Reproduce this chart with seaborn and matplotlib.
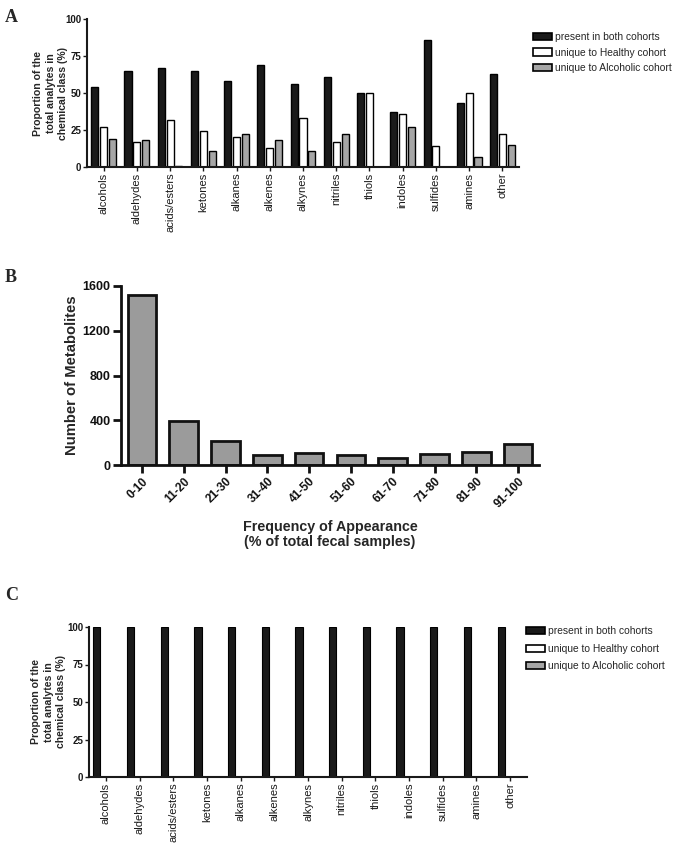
import matplotlib
matplotlib.use("Agg")
import matplotlib.pyplot as plt
import seaborn as sns
import pandas as pd
from matplotlib.patches import Patch

sns.set_theme(style="ticks")
plt.rcParams['font.family'] = ['Liberation Sans', 'DejaVu Sans']

# ---- data ----
classes = ["alcohols", "aldehydes", "acids/esters", "ketones", "alkanes", "alkenes",
           "alkynes", "nitriles", "thiols", "indoles", "sulfides", "amines", "other"]
groups = ["present in both cohorts", "unique to Healthy cohort", "unique to Alcoholic cohort"]

a_both = [54, 65, 67, 65, 58, 69, 56, 61, 50, 37, 86, 43, 63]
a_healthy = [27, 17, 32, 24, 20, 13, 33, 17, 50, 36, 14, 50, 22]
a_alcoholic = [19, 18, 1, 11, 22, 18, 11, 22, 0, 27, 0, 7, 15]

freq_bins = ["0-10", "11-20", "21-30", "31-40", "41-50", "51-60",
             "61-70", "71-80", "81-90", "91-100"]
freq_counts = [1520, 390, 215, 93, 111, 93, 63, 101, 119, 184]

c_both = [100] * 13
c_healthy = [0] * 13
c_alcoholic = [0] * 13

a_yticks = [0, 25, 50, 75, 100]
b_yticks = [0, 400, 800, 1200, 1600]

colors = ["#1a1a1a", "#ffffff", "#a6a6a6"]
palette = dict(zip(groups, colors))


def long_df(v1, v2, v3):
    return pd.DataFrame({
        "class": classes * 3,
        "group": [groups[0]] * 13 + [groups[1]] * 13 + [groups[2]] * 13,
        "value": list(v1) + list(v2) + list(v3),
    })


fig = plt.figure(figsize=(6.8, 8.49), dpi=100)

W, H = 680.0, 849.0


def ax_rect(l, r, t, b):
    return [l / W, 1 - b / H, (r - l) / W, (b - t) / H]


ylab = "Proportion of the\ntotal analytes in\nchemical class (%)"


def class_panel(ax, df, lw_edge, label_x):
    sns.barplot(data=df, x="class", y="value", hue="group", palette=palette,
                hue_order=groups, order=classes, edgecolor="black",
                linewidth=lw_edge, gap=0.2, width=0.8, ax=ax, legend=False)
    ax.set_ylim(0, 100)
    ax.set_xlim(-0.5, 12.5)
    ax.set_yticks(a_yticks)
    ax.set_yticklabels([str(t) for t in a_yticks], fontsize=7, fontweight="bold")
    ax.set_xticks(range(len(classes)))
    ax.set_xticklabels(classes, rotation=90, fontsize=8)
    ax.set_xlabel("")
    ax.set_ylabel(ylab, fontsize=7.6, fontweight="bold", linespacing=1.3)
    ax.yaxis.set_label_coords(label_x, 0.5)
    for s in ["top", "right"]:
        ax.spines[s].set_visible(False)
    for s in ["left", "bottom"]:
        ax.spines[s].set_linewidth(1.5)
        ax.spines[s].set_color("#1a1a1a")
    ax.tick_params(axis="both", length=3, width=1.0, pad=1.2, colors="#1a1a1a")


# ---- Panel A ----
axA = fig.add_axes(ax_rect(87, 519, 19, 167))
class_panel(axA, long_df(a_both, a_healthy, a_alcoholic), 1.0, (68 - 87) / 432)

handles = [Patch(facecolor=c, edgecolor="black", linewidth=1.2) for c in colors]
fig.legend(handles, groups, loc="upper left", bbox_to_anchor=(533 / W, 1 - 32 / H),
           frameon=False, fontsize=7.4, handlelength=1.8, handleheight=0.7,
           handletextpad=0.3, labelspacing=0.55, borderpad=0, borderaxespad=0)

# ---- Panel B ----
axB = fig.add_axes(ax_rect(121, 539, 286, 465))
dfB = pd.DataFrame({"bin": freq_bins, "count": freq_counts})
sns.barplot(data=dfB, x="bin", y="count", color="#9b9b9b", saturation=1,
            edgecolor="#111111", linewidth=2, width=0.68, ax=axB)
axB.set_ylim(0, 1600)
axB.set_xlim(-0.5, 9.5)
axB.set_yticks(b_yticks)
axB.set_yticklabels([str(t) for t in b_yticks], fontsize=9, fontweight="bold")
axB.set_xticks(range(len(freq_bins)))
axB.set_xticklabels(freq_bins, rotation=45, ha="right", rotation_mode="anchor",
                    fontsize=8.5, fontweight="bold")
axB.set_xlabel("Frequency of Appearance\n(% of total fecal samples)", fontsize=10.3,
               fontweight="bold", labelpad=7, linespacing=1.1)
axB.set_ylabel("Number of Metabolites", fontsize=10.7, fontweight="bold")
axB.yaxis.set_label_coords((79 - 121) / 418, 0.5)
for s in ["top", "right"]:
    axB.spines[s].set_visible(False)
for s in ["left", "bottom"]:
    axB.spines[s].set_linewidth(2)
    axB.spines[s].set_color("#111111")
axB.tick_params(axis="both", length=6, width=2, pad=1.5, colors="#111111")

# ---- Panel C ----
axC = fig.add_axes(ax_rect(89, 527, 627, 777))
class_panel(axC, long_df(c_both, c_healthy, c_alcoholic), 0.8, (66 - 89) / 438)
fig.legend(handles, groups, loc="upper left", bbox_to_anchor=(526 / W, 1 - 626 / H),
           frameon=False, fontsize=7.4, handlelength=1.8, handleheight=0.7,
           handletextpad=0.3, labelspacing=0.75, borderpad=0, borderaxespad=0)

# ---- Panel letters ----
for letter, (x, y) in zip("ABC", [(5, 17), (5, 277), (5, 596)]):
    fig.text(x / W, 1 - y / H, letter, fontsize=13, fontweight="bold",
             family=["Liberation Serif", "DejaVu Serif"], va="center", ha="left")

fig.savefig("out.png", dpi=100, facecolor="white")
